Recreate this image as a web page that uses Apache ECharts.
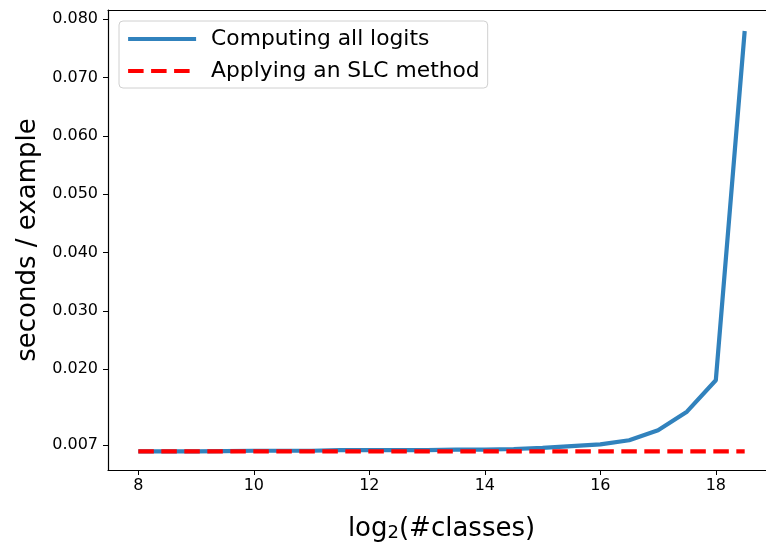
<!DOCTYPE html>
<html>
<head>
<meta charset="utf-8">
<script src="https://cdn.jsdelivr.net/npm/echarts@6/dist/echarts.min.js"></script>
<style>html,body{margin:0;padding:0;background:#fff}#c{width:766px;height:542px}</style>
</head>
<body>
<div id="c"></div>
<script>
const xValues = [8, 8.5, 9, 9.5, 10, 10.5, 11, 11.5, 12, 12.5, 13, 13.5, 14, 14.5, 15, 15.5, 16, 16.5, 17, 17.5, 18, 18.5];
const allLogits = [0.0059, 0.0059, 0.0059, 0.00595, 0.0060, 0.0060, 0.0060, 0.0061, 0.0061, 0.0061, 0.0061, 0.0062, 0.0062, 0.0063, 0.0065, 0.0068, 0.0071, 0.0078, 0.0095, 0.0127, 0.0181, 0.0780];
const slcMethod = [0.0059, 0.0059, 0.0059, 0.0059, 0.0059, 0.0059, 0.0059, 0.0059, 0.0059, 0.0059, 0.0059, 0.0059, 0.0059, 0.0059, 0.0059, 0.0059, 0.0059, 0.0059, 0.0059, 0.0059, 0.0059, 0.0059];
const xTicks = [8, 10, 12, 14, 16, 18];
const yTicks = [0.007, 0.020, 0.030, 0.040, 0.050, 0.060, 0.070, 0.080];
const seriesNames = ['Computing all logits', 'Applying an SLC method'];

const font = 'DejaVu Sans';
const chart = echarts.init(document.getElementById('c'), null, {renderer: 'canvas'});
chart.setOption({
  animation: false,
  backgroundColor: '#fff',
  grid: {left: 108, top: 10, width: 667, height: 460, show: false,
         outerBoundsMode: 'none', containLabel: false},
  legend: {
    orient: 'vertical', left: 119, top: 21,
    padding: [7, 8, 6, 7], itemGap: 10,
    itemWidth: 68, itemHeight: 22,
    borderColor: '#d0d0d0', borderWidth: 1, borderRadius: 4,
    backgroundColor: 'rgba(255,255,255,0.8)',
    itemStyle: {opacity: 0},
    lineStyle: {width: 4.2},
    textStyle: {fontFamily: font, fontSize: 21.8, color: '#000', padding: [0, 0, 0, 10]},
    data: seriesNames
  },
  xAxis: [{
    type: 'value', min: 7.475, max: 19.025,
    name: '{a|log}{b|2}{a|(#classes)}', nameLocation: 'middle', nameGap: 46,
    nameTextStyle: {rich: {
      a: {fontFamily: font, fontSize: 26, color: '#000'},
      b: {fontFamily: font, fontSize: 18, color: '#000', padding: [8, 0, 0, 0]}
    }},
    axisLine: {show: true, lineStyle: {color: '#000', width: 1.2}},
    axisTick: {show: true, length: 5, customValues: xTicks, lineStyle: {color: '#000'}},
    axisLabel: {customValues: xTicks, margin: 8, fontFamily: font, fontSize: 16, color: '#000'},
    splitLine: {show: false}
  }, {
    type: 'value', position: 'top', min: 7.475, max: 19.025,
    axisLine: {show: true, lineStyle: {color: '#000', width: 1.2}},
    axisTick: {show: false}, axisLabel: {show: false}, splitLine: {show: false}
  }],
  yAxis: {
    type: 'value', min: 0.0027, max: 0.0816,
    name: 'seconds / example', nameLocation: 'middle', nameGap: 55,
    nameTextStyle: {fontFamily: font, fontSize: 26, color: '#000'},
    axisLine: {show: true, lineStyle: {color: '#000', width: 1.2}},
    axisTick: {show: true, length: 5, customValues: yTicks, lineStyle: {color: '#000'}},
    axisLabel: {customValues: yTicks, margin: 10, fontFamily: font, fontSize: 16, color: '#000',
      formatter: v => v.toFixed(3)},
    splitLine: {show: false}
  },
  series: [
    {name: seriesNames[0], type: 'line', symbol: 'none', showSymbol: false,
     data: xValues.map((x, i) => [x, allLogits[i]]),
     itemStyle: {color: '#3182bd'},
     lineStyle: {color: '#3182bd', width: 4.2}},
    {name: seriesNames[1], type: 'line', symbol: 'none', showSymbol: false,
     data: xValues.map((x, i) => [x, slcMethod[i]]),
     itemStyle: {color: '#ff0000'},
     lineStyle: {color: '#ff0000', width: 4.2, type: [15.5, 7.5]}}
  ]
});
</script>
</body>
</html>
